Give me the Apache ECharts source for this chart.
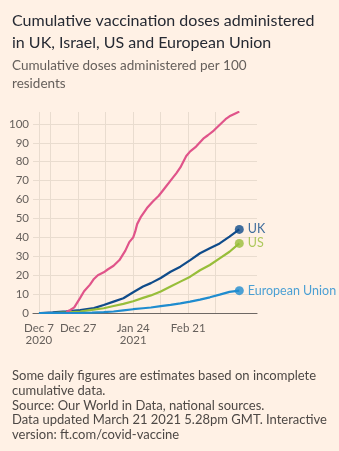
<!DOCTYPE html>
<html><head><meta charset="utf-8">
<script src="https://cdn.jsdelivr.net/npm/echarts@6/dist/echarts.min.js"></script>
<style>html,body{margin:0;padding:0;background:#FFF1E5;}#c{width:339px;height:451px;}</style>
</head><body><div id="c"></div>
<script>
// ---- data ----
const israelDates = ['2020-12-21','2020-12-23','2020-12-25','2020-12-28','2020-12-30','2021-01-02','2021-01-04','2021-01-06','2021-01-09','2021-01-11','2021-01-14','2021-01-17','2021-01-20','2021-01-22','2021-01-24','2021-01-25','2021-01-26','2021-01-28','2021-01-29','2021-01-31','2021-02-03','2021-02-06','2021-02-09','2021-02-12','2021-02-15','2021-02-17','2021-02-20','2021-02-22','2021-02-25','2021-03-01','2021-03-03','2021-03-06','2021-03-08','2021-03-10','2021-03-12','2021-03-14','2021-03-17','2021-03-19'];
const israelValues = [0.6,1.6,3,8,11.5,15,18,20,21.5,23,25,28,33,37.5,40,43,47,51,52,55.5,59,62,66,70,74,77,83,85.5,88,92.5,94,96.5,98.5,100.5,102.5,104,105.5,106.5];

const ukDates = ['2020-12-08','2020-12-14','2020-12-21','2020-12-28','2021-01-04','2021-01-09','2021-01-14','2021-01-19','2021-01-24','2021-01-29','2021-02-02','2021-02-07','2021-02-12','2021-02-17','2021-02-22','2021-02-27','2021-03-04','2021-03-09','2021-03-14','2021-03-19'];
const ukValues = [0,0.3,0.9,1.6,2.6,4.2,6,7.8,11,14,15.8,18.5,21.8,24.5,28,31.6,34.2,36.8,40.4,44.2];

const usDates = ['2020-12-14','2020-12-21','2020-12-28','2021-01-02','2021-01-09','2021-01-14','2021-01-19','2021-01-24','2021-01-29','2021-02-02','2021-02-07','2021-02-12','2021-02-17','2021-02-22','2021-02-27','2021-03-04','2021-03-09','2021-03-14','2021-03-19'];
const usValues = [0,0.3,0.8,1.5,2.5,3.7,4.8,6.2,8,9.3,11.4,14,16.6,19.2,22.6,25.4,28.9,32.4,36.8];

const euDates = ['2020-12-07','2020-12-27','2021-01-03','2021-01-09','2021-01-14','2021-01-19','2021-01-24','2021-01-29','2021-02-02','2021-02-07','2021-02-12','2021-02-17','2021-02-22','2021-02-27','2021-03-04','2021-03-09','2021-03-14','2021-03-19'];
const euValues = [0,0,0.2,0.5,0.8,1.4,2.0,2.5,2.9,3.6,4.3,5.1,6,7.1,8.3,9.7,11.2,11.8];

const xTickLabels = {'2020-12-07':'Dec 7\n2020','2020-12-27':'Dec 27','2021-01-24':'Jan 24\n2021','2021-02-21':'Feb 21'};
const xGridDates = ['2020-12-07','2020-12-13','2020-12-27','2021-01-10','2021-01-24','2021-02-07','2021-02-21','2021-03-07'];
const yTicks = [0,10,20,30,40,50,60,70,80,90,100];

// category axis: every day of the shown range
const categories = [];
for (let t = Date.UTC(2020,11,4); t <= Date.UTC(2021,2,28); t += 86400000) {
  categories.push(new Date(t).toISOString().slice(0,10));
}

const FONT = 'Lato';
const series = [
  {name:'UK', dates:ukDates, values:ukValues, color:'#0f4b8a', label:'UK'},
  {name:'US', dates:usDates, values:usValues, color:'#98be3a', label:'US'},
  {name:'Israel', dates:israelDates, values:israelValues, color:'#e0548a', label:'Israel'},
  {name:'European Union', dates:euDates, values:euValues, color:'#1f8ccf', label:'European Union'}
];

const echartSeries = [];
series.forEach(s => {
  echartSeries.push({
    type:'line', name:s.name, data:s.dates.map((d,i)=>[d, s.values[i]]),
    symbol:'none', lineStyle:{width:2.2, color:s.color}, itemStyle:{color:s.color},
    animation:false, z:2
  });
  const n = s.dates.length - 1;
  echartSeries.push({
    type:'scatter', name:s.name+' end', data:[[s.dates[n], s.values[n]]],
    symbolSize:9, itemStyle:{color:s.color}, animation:false, z:3,
    label:{show:true, position:'right', distance:4, formatter:s.label, color:s.color,
      fontFamily:FONT, fontSize:12.5}
  });
});

const chart = echarts.init(document.getElementById('c'), null, {renderer:'canvas'});
chart.setOption({
  backgroundColor:'#FFF1E5',
  animation:false,
  title:[
    {text:'Cumulative vaccination doses administered\nin UK, Israel, US and European Union', left:7, top:5,
     textStyle:{fontFamily:FONT, fontSize:16, fontWeight:'normal', color:'#262a33', lineHeight:22}},
    {text:'Cumulative doses administered per 100\nresidents', left:7, top:52,
     textStyle:{fontFamily:FONT, fontSize:13.5, fontWeight:'normal', color:'#66605c', lineHeight:18}},
    {text:'Some daily figures are estimates based on incomplete\ncumulative data.\nSource: Our World in Data, national sources.\nData updated March 21 2021 5.28pm GMT. Interactive\nversion: ft.com/covid-vaccine', left:7, top:364,
     textStyle:{fontFamily:FONT, fontSize:13, fontWeight:'normal', color:'#4d4845', lineHeight:14.6}}
  ],
  grid:{left:33, right:82, top:112, bottom:138, containLabel:false},
  xAxis:{
    type:'category', data:categories, boundaryGap:false,
    axisLine:{show:true, lineStyle:{color:'#6e6864', width:1.2}},
    axisTick:{show:false},
    axisLabel:{interval:(i,v)=>v in xTickLabels, formatter:v=>xTickLabels[v]||'',
      fontFamily:FONT, fontSize:11.5, color:'#66605c', lineHeight:12, margin:9},
    splitLine:{show:true, interval:(i,v)=>xGridDates.indexOf(v)>=0, lineStyle:{color:'#e9dccf', width:1}}
  },
  yAxis:{
    type:'value', min:0, max:106.3, interval:10,
    axisLine:{show:false}, axisTick:{show:false},
    axisLabel:{showMaxLabel:false, formatter:v=>yTicks.indexOf(v)>=0?String(v):'', fontFamily:FONT, fontSize:11.5, color:'#66605c', margin:4},
    splitLine:{show:true, showMaxLine:false, lineStyle:{color:'#e9dccf', width:1}}
  },
  series:echartSeries
});
</script></body></html>
